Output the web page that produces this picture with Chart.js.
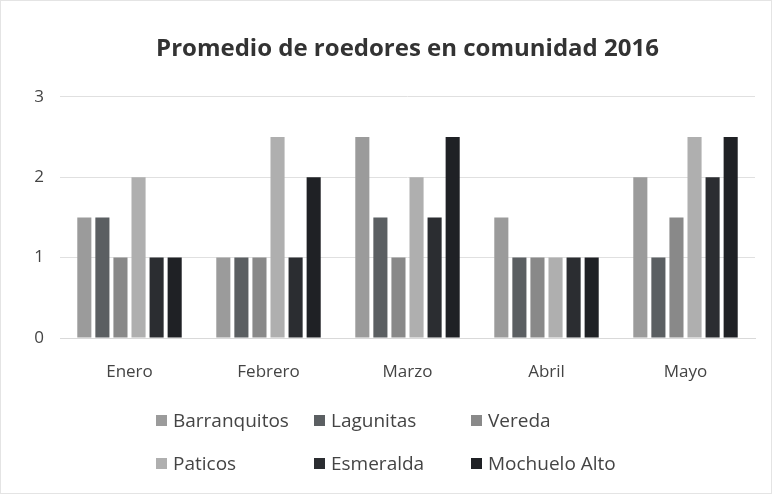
<!DOCTYPE html>
<html lang="es">
  <head>
    <meta charset="UTF-8" />
    <title>Promedio de roedores en comunidad 2016</title>
    <script src="https://cdn.jsdelivr.net/npm/chart.js"></script>
    <style>
      body {
        margin: 0;
        background: #fff;
        font-family: "Open Sans", sans-serif;
      }
      .wrap {
        position: relative;
        width: 772px;
        height: 494px;
        box-sizing: border-box;
        border: 1px solid #e4e4e4;
      }
      #leyenda {
        position: absolute;
        left: 155px;
        top: 406px;
        display: grid;
        grid-template-columns: 158px 157px 180px;
        row-gap: 17px;
        font-size: 19px;
        color: #444;
      }
      #leyenda span {
        display: flex;
        align-items: center;
        height: 26px;
      }
      #leyenda i {
        display: inline-block;
        width: 11px;
        height: 11px;
        margin-right: 6px;
      }
    </style>
  </head>
  <body>
    <div class="wrap">
      <canvas id="grafico" width="770" height="492"></canvas>
      <div id="leyenda"></div>
    </div>

    <script>
      const meses = ["Enero", "Febrero", "Marzo", "Abril", "Mayo"];
      const barranquitos = [1.5, 1, 2.5, 1.5, 2];
      const lagunitas = [1.5, 1, 1.5, 1, 1];
      const vereda = [1, 1, 1, 1, 1.5];
      const paticos = [2, 2.5, 2, 1, 2.5];
      const esmeralda = [1, 1, 1.5, 1, 2];
      const mochueloAlto = [1, 2, 2.5, 1, 2.5];
      const ticksY = [0, 1, 2, 3];

      const series = [
        { label: "Barranquitos", data: barranquitos, color: "#9b9b9b" },
        { label: "Lagunitas", data: lagunitas, color: "#5b5f62" },
        { label: "Vereda", data: vereda, color: "#898989" },
        { label: "Paticos", data: paticos, color: "#afafaf" },
        { label: "Esmeralda", data: esmeralda, color: "#2b2d31" },
        { label: "Mochuelo Alto", data: mochueloAlto, color: "#1f2125" },
      ];

      const grafico = new Chart(document.getElementById("grafico"), {
        type: "bar",
        data: {
          labels: meses,
          datasets: series.map((s) => ({
            label: s.label,
            data: s.data,
            backgroundColor: s.color,
            categoryPercentage: 0.78,
            barPercentage: 0.78,
          })),
        },
        options: {
          responsive: false,
          animation: false,
          layout: { padding: { left: 0, right: 16, bottom: 110 } },
          plugins: {
            legend: { display: false },
            tooltip: { enabled: false },
            title: {
              display: true,
              fullSize: false, // centrado sobre el área del gráfico
              text: "Promedio de roedores en comunidad 2016",
              color: "#333",
              font: { family: "Open Sans", size: 24, weight: "bold" },
              padding: { top: 34, bottom: 33 },
            },
          },
          scales: {
            x: {
              grid: { display: false },
              border: { color: "#d9d9d9" },
              ticks: {
                color: "#444",
                font: { family: "Open Sans", size: 17 },
                padding: 16,
              },
              afterFit: (s) => {
                s.height = 45;
              },
            },
            y: {
              min: 0,
              max: 3,
              afterBuildTicks: (s) => {
                s.ticks = ticksY.map((v) => ({ value: v }));
              },
              grid: { color: "#e0e0e0", drawTicks: false },
              border: { display: false },
              ticks: {
                color: "#444",
                font: { family: "Open Sans", size: 17 },
                padding: 16,
              },
              afterFit: (s) => {
                s.width = 59;
              },
            },
          },
        },
      });

      const leyenda = document.getElementById("leyenda");
      series.forEach((s) => {
        const item = document.createElement("span");
        item.innerHTML = `<i style="background:${s.color}"></i>${s.label}`;
        leyenda.appendChild(item);
      });
    </script>
  </body>
</html>
